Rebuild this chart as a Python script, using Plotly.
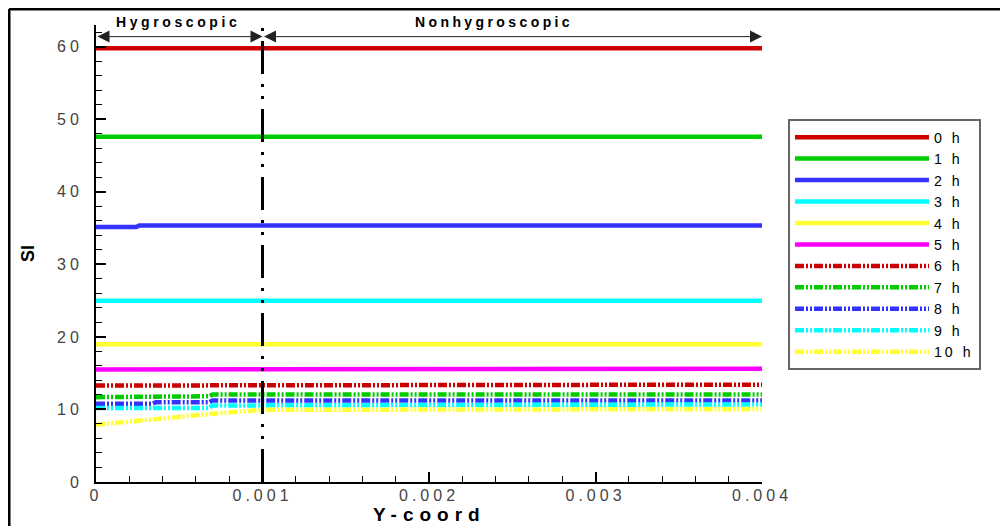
import plotly.graph_objects as go

# ---------------- data ----------------
series_names = ["0 h", "1 h", "2 h", "3 h", "4 h", "5 h", "6 h", "7 h", "8 h", "9 h", "10 h"]

x_0h = [0, 0.004]
si_0h = [59.8, 59.8]
x_1h = [0, 0.004]
si_1h = [47.6, 47.6]
x_2h = [0, 0.00024, 0.00026, 0.004]
si_2h = [35.15, 35.15, 35.35, 35.35]
x_3h = [0, 0.004]
si_3h = [25.0, 25.0]
x_4h = [0, 0.004]
si_4h = [19.0, 19.0]
x_5h = [0, 0.00074, 0.00076, 0.004]
si_5h = [15.5, 15.5, 15.62, 15.62]
x_6h = [0, 0.00068, 0.0007, 0.004]
si_6h = [13.3, 13.3, 13.42, 13.42]
x_7h = [0, 0.00011, 0.00013, 0.00068, 0.0007, 0.004]
si_7h = [11.7, 11.7, 11.82, 11.82, 12.05, 12.05]
x_8h = [0, 0.00034, 0.00036, 0.00068, 0.0007, 0.004]
si_8h = [10.8, 10.8, 11.0, 11.0, 11.25, 11.25]
x_9h = [0, 0.00068, 0.0007, 0.004]
si_9h = [10.2, 10.2, 10.55, 10.7]
x_10h = [0, 0.00016, 0.00036, 0.00056, 0.0007, 0.00086, 0.001, 0.004]
si_10h = [7.9, 8.2, 8.65, 9.1, 9.4, 9.7, 9.95, 10.05]

series_x = [x_0h, x_1h, x_2h, x_3h, x_4h, x_5h, x_6h, x_7h, x_8h, x_9h, x_10h]
series_y = [si_0h, si_1h, si_2h, si_3h, si_4h, si_5h, si_6h, si_7h, si_8h, si_9h, si_10h]

x_tick_vals = [0, 0.001, 0.002, 0.003, 0.004]
x_tick_text = ["0", "0.001", "0.002", "0.003", "0.004"]
y_tick_vals = [0, 10, 20, 30, 40, 50, 60]
y_tick_text = ["0", "10", "20", "30", "40", "50", "60"]

boundary_x = 0.001          # hygroscopic / nonhygroscopic boundary
domain_end = 0.004
region_labels = ["Hygroscopic", "Nonhygroscopic"]
x_title = "Y-coord"
y_title = "SI"

# ---------------- styles ----------------
colors = ["#CC0000", "#00CC00", "#3333FF", "#00FFFF", "#FFFF33", "#FF00FF",
          "#CC0000", "#00CC00", "#3333FF", "#00FFFF", "#FFFF33"]
dashdotdot = "9px,2px,2px,2px,2px,2px"
dashes = ["solid"] * 6 + [dashdotdot] * 5

def spaced(txt, px):
    return f"<span style='letter-spacing:{px}px'>{txt}</span>"

FONT = "Liberation Sans, Arial, sans-serif"

fig = go.Figure()
for name, xs, ys, c, d in zip(series_names, series_x, series_y, colors, dashes):
    fig.add_trace(go.Scatter(
        x=xs, y=ys, mode="lines", name=spaced(name, 3),
        line=dict(color=c, width=4.5, dash=d),
    ))

# vertical boundary line
fig.add_shape(type="line", xref="x", yref="paper", x0=boundary_x, x1=boundary_x,
              y0=0, y1=1, line=dict(color="black", width=3,
                                     dash="33px,10px,3px,9px,3px,10px"))

# region arrows
arrow_y = 61.4
for x0, x1 in [(0, boundary_x), (boundary_x, domain_end)]:
    fig.add_annotation(x=x1, y=arrow_y, ax=x0, ay=arrow_y, xref="x", yref="y",
                       axref="x", ayref="y", text="", showarrow=True,
                       arrowhead=2, startarrowhead=2, arrowside="end+start",
                       arrowsize=2.4, startarrowsize=2.4, arrowwidth=1,
                       arrowcolor="#222")
fig.add_annotation(x=0.00049, y=1.0066, xref="x", yref="paper",
                   text="<b>" + spaced(region_labels[0], 3.6) + "</b>",
                   showarrow=False, font=dict(family=FONT, size=14, color="black"),
                   xanchor="center", yanchor="middle")
fig.add_annotation(x=0.00239, y=1.0066, xref="x", yref="paper",
                   text="<b>" + spaced(region_labels[1], 3.4) + "</b>",
                   showarrow=False, font=dict(family=FONT, size=14, color="black"),
                   xanchor="center", yanchor="middle")

# x-axis title (placed as annotation to sit where the reference has it)
fig.add_annotation(x=0.5, y=-0.072, xref="paper", yref="paper",
                   text="<b>" + spaced(x_title, 6) + "</b>", showarrow=False,
                   font=dict(family=FONT, size=19, color="black"),
                   xanchor="center", yanchor="middle", borderpad=0)

# outer frame of the picture
fig.add_shape(type="line", xref="paper", yref="paper", x0=-0.1306, x1=1.5,
              y0=1.0350, y1=1.0350, line=dict(color="black", width=3))
fig.add_shape(type="line", xref="paper", yref="paper", x0=-0.1306, x1=-0.1306,
              y0=-0.2, y1=1.0350, line=dict(color="black", width=3))

fig.update_layout(
    width=1008, height=526,
    margin=dict(l=88, r=254, t=17, b=52, autoexpand=False),
    paper_bgcolor="white", plot_bgcolor="white",
    font=dict(family=FONT, color="black"),
    showlegend=True,
    legend=dict(x=1.039, y=0.7934, xanchor="left", yanchor="top",
                bordercolor="#666", borderwidth=2, bgcolor="white",
                font=dict(family=FONT, size=14.2, color="black"),
                itemwidth=134, tracegroupgap=0),
    xaxis=dict(range=[0, domain_end], showgrid=False, zeroline=False,
               showline=True, linecolor="black", linewidth=2,
               ticks="inside", ticklen=10, tickwidth=2, tickcolor="black",
               tickvals=x_tick_vals,
               ticktext=[spaced(t, 4) for t in x_tick_text],
               tickfont=dict(family=FONT, size=16, color="#444"),
               ticklabelstandoff=-2,
               minor=dict(dtick=0.0002, ticks="inside", ticklen=6,
                          tickwidth=1, tickcolor="black", showgrid=False)),
    yaxis=dict(range=[0, 63], showgrid=False, zeroline=False,
               showline=True, linecolor="black", linewidth=2,
               ticks="inside", ticklen=10, tickwidth=2, tickcolor="black",
               tickvals=y_tick_vals,
               ticktext=[spaced(t, 4) for t in y_tick_text],
               tickfont=dict(family=FONT, size=16, color="#444"),
               ticklabelstandoff=8,
               minor=dict(dtick=2, ticks="inside", ticklen=6,
                          tickwidth=1, tickcolor="black", showgrid=False),
               title=dict(text="<b>" + y_title + "</b>",
                          font=dict(family=FONT, size=18, color="black"),
                          standoff=18)),
)

fig.write_html("out.html")
